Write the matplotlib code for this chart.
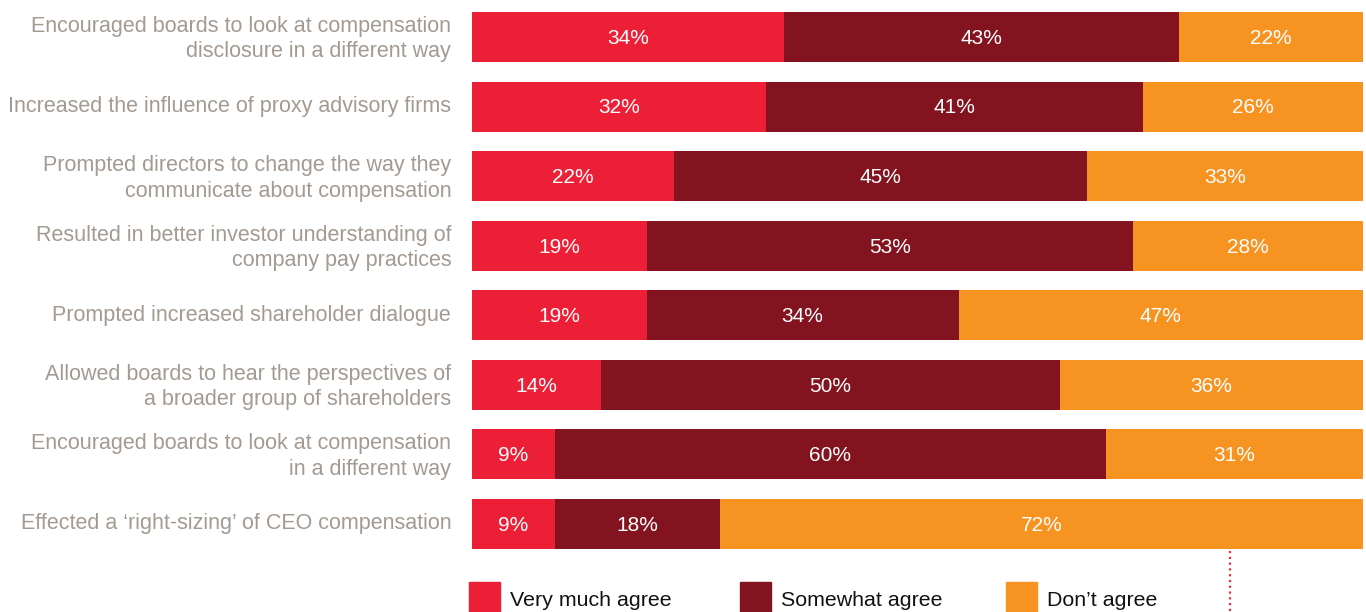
import matplotlib
matplotlib.use("Agg")
import matplotlib.pyplot as plt
import matplotlib.transforms as mtransforms
from matplotlib.patches import Rectangle
from matplotlib.lines import Line2D

categories = [
    "Encouraged boards to look at compensation\ndisclosure in a different way",
    "Increased the influence of proxy advisory firms",
    "Prompted directors to change the way they\ncommunicate about compensation",
    "Resulted in better investor understanding of\ncompany pay practices",
    "Prompted increased shareholder dialogue",
    "Allowed boards to hear the perspectives of\na broader group of shareholders",
    "Encouraged boards to look at compensation\nin a different way",
    "Effected a \u2018right-sizing\u2019 of CEO compensation",
]
very_much = [34, 32, 22, 19, 19, 14, 9, 9]
somewhat = [43, 41, 45, 53, 34, 50, 60, 18]
dont = [22, 26, 33, 28, 47, 36, 31, 72]
series_names = ["Very much agree", "Somewhat agree", "Don\u2019t agree"]
colors = ["#ED1F36", "#83141F", "#F69321"]

plt.rcParams['font.family'] = ['Liberation Sans', 'DejaVu Sans']

W, H = 1366, 612
fig = plt.figure(figsize=(W / 100, H / 100), dpi=100)
ax_left, ax_right = 472, 1363
ax_top, ax_bot = 0, 560
ax = fig.add_axes([ax_left / W, 1 - ax_bot / H, (ax_right - ax_left) / W, (ax_bot - ax_top) / H])

XMAX = 97.0
spacing = 69.57
first = 37
ylo = (ax_bot - first) / spacing
yhi = (ax_top - first) / spacing
ax.set_xlim(0, XMAX)
ax.set_ylim(ylo, yhi)

ys = list(range(len(categories)))
left = [0] * len(categories)
for vals, col in zip([very_much, somewhat, dont], colors):
    ax.barh(ys, vals, left=left, height=50 / spacing, color=col, edgecolor='none', clip_on=True)
    for y, v, l in zip(ys, vals, left):
        a, b = l, min(l + v, XMAX)
        ax.text((a + b) / 2, y + 0.02, f"{v}%", ha='center', va='center', color='white', fontsize=15)
    left = [l + v for l, v in zip(left, vals)]

ax.set_yticks(ys)
ax.set_yticklabels(categories, fontsize=15.5, color='#A39A92', linespacing=1.28)
ax.tick_params(axis='y', length=0, pad=15)
offset = mtransforms.ScaledTranslation(0, 2.5 / 100, fig.dpi_scale_trans)
for lbl in ax.get_yticklabels():
    lbl.set_transform(lbl.get_transform() + offset)
ax.set_xticks([])
for s in ax.spines.values():
    s.set_visible(False)

# dotted vertical line
fig.add_artist(Line2D([1230 / W, 1230 / W], [1 - 551 / H, 0], color='#E8333C',
                      linestyle=(0, (1, 1.6)), linewidth=1.6))

# legend
leg_x = [469, 740, 1006]
for x, name, col in zip(leg_x, series_names, colors):
    fig.add_artist(Rectangle((x / W, -0.02), 31 / W, (612 - 582) / H + 0.02,
                             transform=fig.transFigure, color=col, clip_on=False))
    fig.text((x + 41) / W, 1 - 601 / H, name, fontsize=15.4, color='#111111',
             ha='left', va='center')

fig.savefig("out.png", dpi=100)
